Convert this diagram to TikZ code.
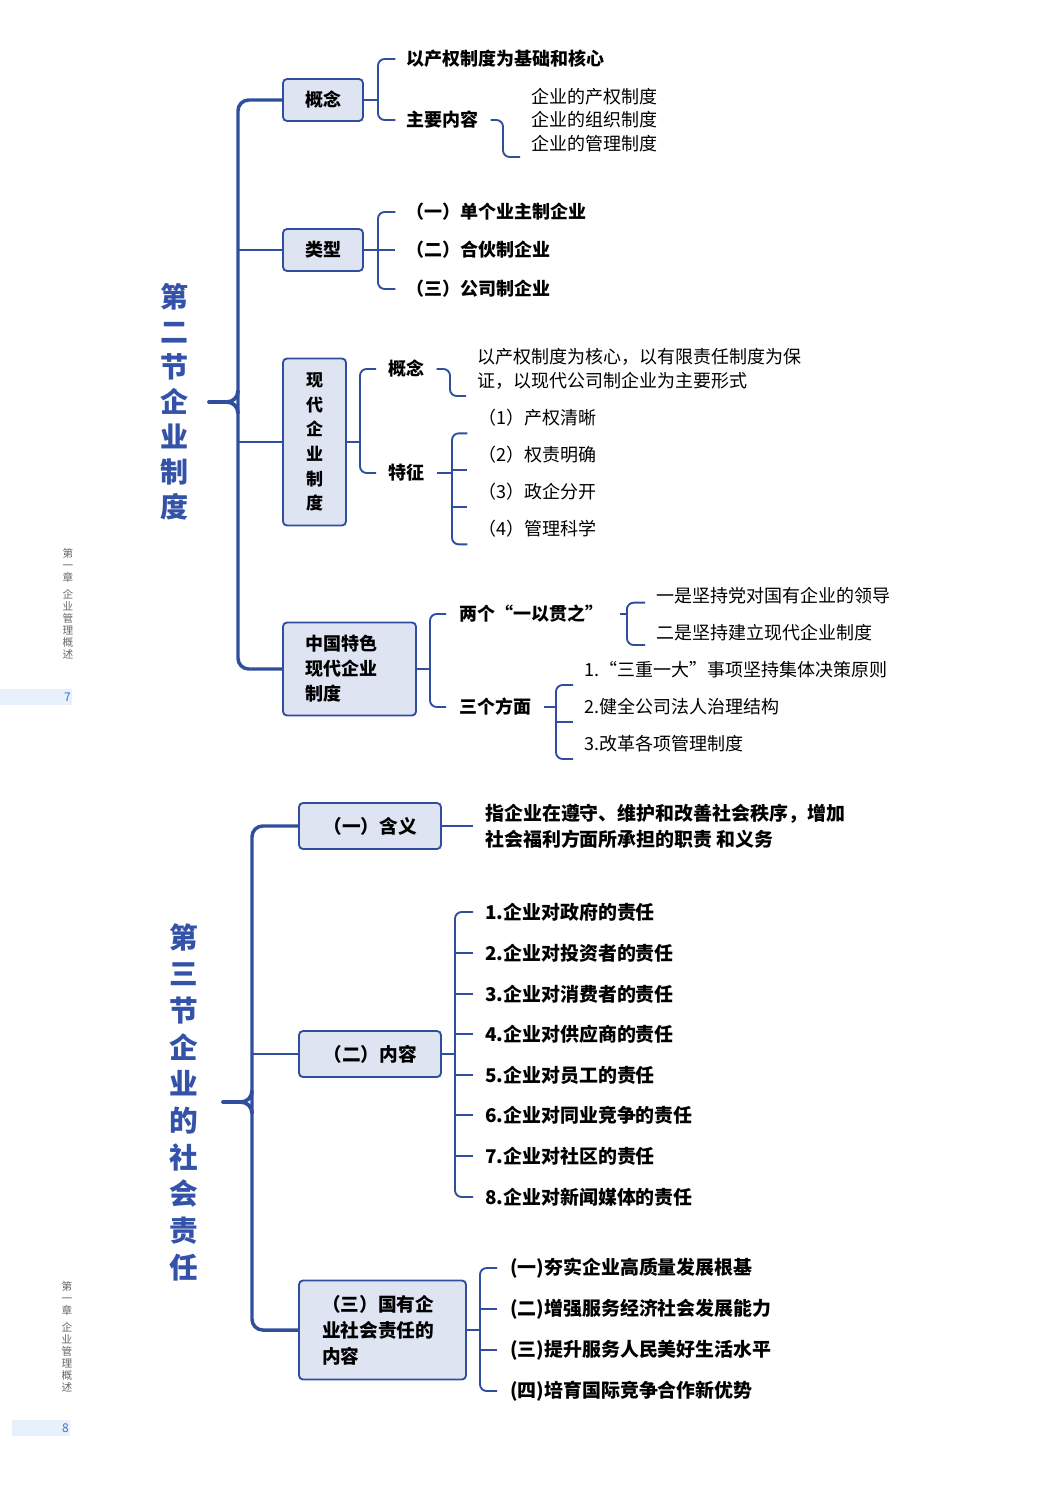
\documentclass[tikz,border=0pt]{standalone}
\usepackage{fontspec}
\setmainfont{Noto Sans CJK SC}
\definecolor{xianlan}{HTML}{2F4E9E}
\definecolor{kuangdi}{HTML}{DFE4F3}
\definecolor{biaoti}{HTML}{3352A8}
\definecolor{yejiao}{HTML}{E8F1FB}
\definecolor{yema}{HTML}{3B73C4}
\definecolor{yejiaozi}{HTML}{666666}
\tikzset{
  zhu/.style={line width=2.6pt, draw=xianlan, rounded corners=8pt},
  jian/.style={line width=2.8pt, draw=xianlan, line cap=round},
  lian/.style={line width=1.4pt, draw=xianlan, rounded corners=5pt},
  kuang/.style={draw=xianlan, line width=1.4pt, fill=kuangdi, rounded corners=3pt, inner sep=0pt, font=\bfseries\fontsize{13.5}{18}\selectfont},
  cu/.style={anchor=west, inner sep=0pt, font=\bfseries\fontsize{13.5}{18}\selectfont},
  cuda/.style={anchor=west, inner sep=0pt, font=\bfseries\fontsize{14.2}{19.5}\selectfont},
  xi/.style={anchor=west, inner sep=0pt, font=\fontsize{13.5}{18}\selectfont},
  yeshu/.style={align=center, inner sep=0pt, text=yejiaozi, font=\fontsize{8}{9}\selectfont},
}
\begin{document}
\begin{tikzpicture}[x=0.75pt, y=-0.75pt]
\useasboundingbox (0,0) rectangle (1052,1487);

% 1. 第二节 企业制度
\node[align=center, inner sep=0pt, text=biaoti, font=\bfseries\fontsize{21}{26.25}\selectfont] (t2) at (174,402) {第\\二\\节\\企\\业\\制\\度};

% 概念
\node[kuang, minimum width=60pt, minimum height=31.5pt] (gn) at (323,100) {概念};
\node[cu] (gn1) at (406,59) {以产权制度为基础和核心};
\node[cu] (gn2) at (406,120) {主要内容};
\node[xi] (nr1) at (531,97) {企业的产权制度};
\node[xi] (nr2) at (531,120) {企业的组织制度};
\node[xi] (nr3) at (531,144) {企业的管理制度};
\draw[lian] (gn.east) -- (378,100);
\draw[lian] ([xshift=-8pt]gn1.west) -| (378,100) |- ([xshift=-8pt]gn2.west);
\draw[lian] ([xshift=9pt]gn2.east) -| (503,157) -- (520,157);

% 类型
\node[kuang, minimum width=60pt, minimum height=31.5pt] (lx) at (323,250) {类型};
\node[cu] (lx1) at (406,212) {（一）单个业主制企业};
\node[cu] (lx2) at (406,250) {（二）合伙制企业};
\node[cu] (lx3) at (406,289) {（三）公司制企业};
\draw[lian] (lx.east) -- ([xshift=-8pt]lx2.west);
\draw[lian] ([xshift=-8pt]lx1.west) -| (378,250) |- ([xshift=-8pt]lx3.west);

% 现代企业制度
\node[kuang, minimum width=47.25pt, minimum height=125.25pt, align=center, font=\bfseries\fontsize{12.75}{18.5}\selectfont] (xd) at (314.5,442) {现\\代\\企\\业\\制\\度};
\node[cu] (xd1) at (388,369) {概念};
\node[cu] (xd2) at (388,473) {特征};
\node[xi, align=left] (xd11) at (477,369) {以产权制度为核心，以有限责任制度为保\\证，以现代公司制企业为主要形式};
\node[xi] (tz1) at (478,418) {（1）产权清晰};
\node[xi] (tz2) at (478,455) {（2）权责明确};
\node[xi] (tz3) at (478,492) {（3）政企分开};
\node[xi] (tz4) at (478,529) {（4）管理科学};
\draw[lian] (xd.east) -- (360,442);
\draw[lian] ([xshift=-9pt]xd1.west) -| (360,442) |- ([xshift=-9pt]xd2.west);
\draw[lian] ([xshift=9pt]xd1.east) -| (450,396) -- (466,396);
\draw[lian] ([xshift=9pt]xd2.east) -- (452,473);
\draw[lian] ([xshift=-8pt,yshift=-11.5pt]tz1.west) -| (452,473) |- ([xshift=-8pt,yshift=-11.5pt]tz4.west);
\draw[lian] ([xshift=-8pt,yshift=-11.5pt]tz2.west) -- +(-15,0)
            ([xshift=-8pt,yshift=-11.5pt]tz3.west) -- +(-15,0);

% 中国特色现代企业制度
\node[kuang, minimum width=99.75pt, minimum height=69.75pt, text width=66.75pt, inner xsep=16.5pt, align=left, font=\bfseries\fontsize{13.5}{18.75}\selectfont] (zg) at (349.5,669) {中国特色\\现代企业\\制度};
\node[cu] (zg1) at (459,614) {两个“一以贯之”};
\node[cu] (zg2) at (459,707) {三个方面};
\node[xi] (yg1) at (656,596) {一是坚持党对国有企业的领导};
\node[xi] (yg2) at (656,633) {二是坚持建立现代企业制度};
\node[xi] (sf1) at (584,670) {1.“三重一大”事项坚持集体决策原则};
\node[xi] (sf2) at (584,707) {2.健全公司法人治理结构};
\node[xi] (sf3) at (584,744) {3.改革各项管理制度};
\draw[lian] (zg.east) -- (430,669);
\draw[lian] ([xshift=-9.75pt]zg1.west) -| (430,669) |- ([xshift=-9.75pt]zg2.west);
\draw[lian] ([xshift=12pt]zg1.east) -- (627,614);
\draw[lian] ([xshift=-8.25pt,yshift=-5pt]yg1.west) -| (627,614) |- ([xshift=-8.25pt,yshift=-9pt]yg2.west);
\draw[lian] ([xshift=9pt]zg2.east) -- (556,707);
\draw[lian] ([xshift=-8.25pt,yshift=-11.25pt]sf1.west) -| (556,707) |- ([xshift=-8.25pt,yshift=-11.25pt]sf3.west);
\draw[lian] ([xshift=-8.25pt,yshift=-11.25pt]sf2.west) -- +(-17,0);

% 主干
\draw[zhu] (gn.west) -| (238,669) -- (zg.west);
\draw[zhu, line width=2pt, rounded corners=0pt] (238,250) -- (lx.west) (238,442) -- (xd.west);
\draw[jian] (209,402) -- (228,402);
\draw[jian] (227,402) to[out=0,in=-90] (238,391);
\draw[jian] (227,402) to[out=0,in=90] (238,413);

% 2. 第三节 企业的社会责任
\node[align=center, inner sep=0pt, text=biaoti, font=\bfseries\fontsize{21.5}{27.5}\selectfont] (t3) at (184,1102) {第\\三\\节\\企\\业\\的\\社\\会\\责\\任};

% 含义
\node[kuang, minimum width=106.5pt, minimum height=34.5pt, font=\bfseries\fontsize{14}{18}\selectfont] (hy) at (370,826) {（一）含义};
\node[cuda, align=left] (hy1) at (485,826) {指企业在遵守、维护和改善社会秩序，增加\\社会福利方面所承担的职责 和义务};
\draw[lian] (hy.east) -- ([xshift=-9pt]hy1.west);

% 内容
\node[kuang, minimum width=106.5pt, minimum height=34.5pt, font=\bfseries\fontsize{14}{18}\selectfont] (nr) at (370,1054) {（二）内容};
\node[cuda] (zr1) at (485,912) {1.企业对政府的责任};
\node[cuda] (zr2) at (485,953) {2.企业对投资者的责任};
\node[cuda] (zr3) at (485,994) {3.企业对消费者的责任};
\node[cuda] (zr4) at (485,1034) {4.企业对供应商的责任};
\node[cuda] (zr5) at (485,1075) {5.企业对员工的责任};
\node[cuda] (zr6) at (485,1115) {6.企业对同业竞争的责任};
\node[cuda] (zr7) at (485,1156) {7.企业对社区的责任};
\node[cuda] (zr8) at (485,1197) {8.企业对新闻媒体的责任};
\draw[lian] (nr.east) -- (455,1054);
\draw[lian] ([xshift=-9pt]zr1.west) -| (455,1054) |- ([xshift=-9pt]zr8.west);
\draw[lian] ([xshift=-9pt]zr2.west) -- +(-18,0)
            ([xshift=-9pt]zr3.west) -- +(-18,0)
            ([xshift=-9pt]zr4.west) -- +(-18,0)
            ([xshift=-9pt]zr5.west) -- +(-18,0)
            ([xshift=-9pt]zr6.west) -- +(-18,0)
            ([xshift=-9pt]zr7.west) -- +(-18,0);

% 国有企业社会责任的内容
\node[kuang, minimum width=125.25pt, minimum height=74.25pt, text width=90.75pt, inner xsep=17.25pt, align=left, font=\bfseries\fontsize{14}{19.5}\selectfont] (gy) at (382.5,1330) {（三）国有企\\业社会责任的\\内容};
\node[cuda] (gy1) at (510,1268) {(一)夯实企业高质量发展根基};
\node[cuda] (gy2) at (510,1309) {(二)增强服务经济社会发展能力};
\node[cuda] (gy3) at (510,1350) {(三)提升服务人民美好生活水平};
\node[cuda] (gy4) at (510,1391) {(四)培育国际竞争合作新优势};
\draw[lian] (gy.east) -- (480,1330);
\draw[lian] ([xshift=-9.75pt]gy1.west) -| (480,1330) |- ([xshift=-9.75pt]gy4.west);
\draw[lian] ([xshift=-9.75pt]gy2.west) -- +(-17,0)
            ([xshift=-9.75pt]gy3.west) -- +(-17,0);

% 主干
\draw[zhu] (hy.west) -| (252,1330) -- (gy.west);
\draw[zhu, line width=2pt, rounded corners=0pt] (252,1054) -- (nr.west);
\draw[jian] (223,1102) -- (242,1102);
\draw[jian] (241,1102) to[out=0,in=-90] (252,1091);
\draw[jian] (241,1102) to[out=0,in=90] (252,1113);

% 3. 页脚
\fill[yejiao] (0,689) rectangle (72,705);
\node[anchor=east, inner sep=0pt, text=yema, font=\fontsize{9}{9}\selectfont] (ym7) at (71,697) {7};
\node[yeshu] (yj7) at (68,604) {第\\一\\章\\[4pt]企\\业\\管\\理\\概\\述};
\fill[yejiao] (12,1420) rectangle (70,1436);
\node[anchor=east, inner sep=0pt, text=yema, font=\fontsize{9}{9}\selectfont] (ym8) at (69,1428) {8};
\node[yeshu] (yj8) at (67,1337) {第\\一\\章\\[4pt]企\\业\\管\\理\\概\\述};
\end{tikzpicture}
\end{document}
